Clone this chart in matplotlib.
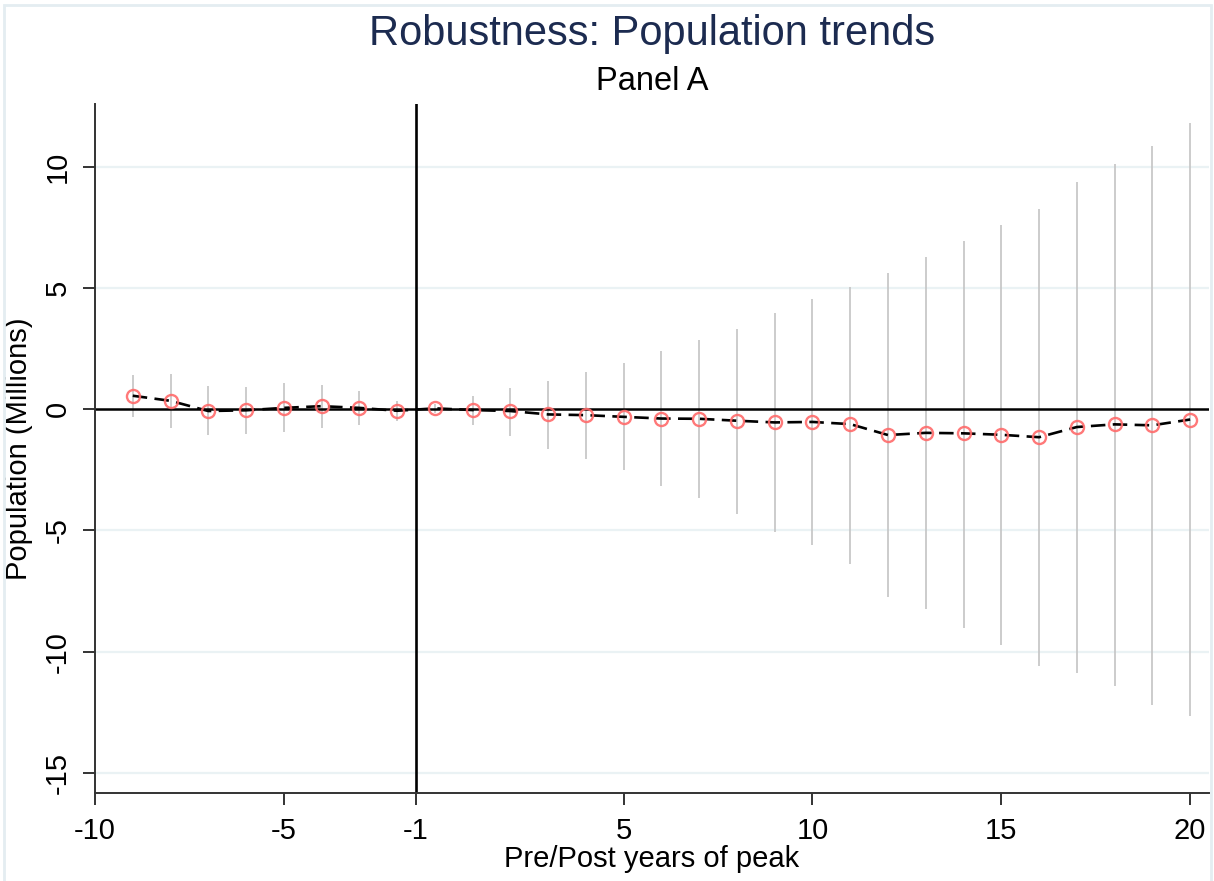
import matplotlib
matplotlib.use("Agg")
import matplotlib.pyplot as plt
from matplotlib.patches import Rectangle
import numpy as np

# event time relative to peak (-1 is the omitted reference year)
event_years = [-9, -8, -7, -6, -5, -4, -3, -2,
               0, 1, 2, 3, 4, 5, 6, 7, 8, 9, 10,
               11, 12, 13, 14, 15, 16, 17, 18, 19, 20]
coef = [0.55, 0.34, -0.08, -0.05, 0.05, 0.12, 0.05, -0.07,
        0.03, -0.04, -0.08, -0.22, -0.25, -0.32, -0.39, -0.40, -0.48, -0.55, -0.53,
        -0.62, -1.07, -0.98, -1.00, -1.06, -1.16, -0.74, -0.63, -0.67, -0.43]
ci_hi = [1.40, 1.43, 0.95, 0.90, 1.06, 0.98, 0.76, 0.32,
         0.20, 0.55, 0.88, 1.17, 1.54, 1.89, 2.41, 2.85, 3.32, 3.97, 4.55,
         5.04, 5.61, 6.27, 6.94, 7.58, 8.24, 9.37, 10.12, 10.84, 11.79]
ci_lo = [-0.32, -0.76, -1.07, -1.03, -0.96, -0.76, -0.66, -0.50,
         -0.15, -0.66, -1.12, -1.63, -2.05, -2.52, -3.18, -3.65, -4.31, -5.06, -5.62,
         -6.39, -7.74, -8.25, -9.04, -9.74, -10.58, -10.87, -11.40, -12.20, -12.64]

xtick_years = [-10, -5, -1, 5, 10, 15, 20]
ytick_vals = [10, 5, 0, -5, -10, -15]


def to_pos(yr):
    # plotted as consecutive positions, with the omitted year -1 squeezed out
    if yr <= -2:
        return yr + 10
    if yr >= 0:
        return yr + 9
    return 8.5


plt.rcParams['font.family'] = ['Liberation Sans', 'DejaVu Sans']

x = np.array([to_pos(v) for v in event_years])

fig = plt.figure(figsize=(12.14, 8.81), dpi=100)
ax = fig.add_axes([95 / 1214, 1 - 792.5 / 881, (1209 - 95) / 1214, (792.5 - 104) / 881])

# outer graph-region frame
fig.patches.append(Rectangle((4 / 1214, -0.05), 1207 / 1214, 1.05 - 5 / 881,
                             transform=fig.transFigure, fill=False,
                             edgecolor='#e4edf1', lw=2))

for yv in ytick_vals:
    if yv != 0:
        ax.axhline(yv, color='#eaf2f4', lw=1.6, zorder=0)

ax.vlines(x, ci_lo, ci_hi, color='#c4c4c4', lw=1.2, zorder=1)
ax.axhline(0, color='black', lw=1.8, zorder=2)
ax.axvline(to_pos(-1), color='black', lw=1.9, zorder=2)
ax.plot(x, coef, color='black', lw=1.9, dashes=(5.5, 2.8), zorder=3)
ax.plot(x, coef, ls='none', marker='o', ms=9.4, mfc='none', mec='#ff6b6b',
        mew=1.7, alpha=0.9, zorder=4)

ax.set_xlim(0, 29.5)
ax.set_ylim(-15.81, 12.58)

ax.set_xticks([to_pos(v) for v in xtick_years])
ax.set_xticklabels([str(v) for v in xtick_years])
ax.set_yticks(ytick_vals)
ax.set_yticklabels([str(v) for v in ytick_vals], rotation=90, va='center')
ax.tick_params(axis='both', direction='out', length=8.5, width=1.4,
               color='#333333', labelsize=21)
ax.tick_params(axis='x', pad=9)
ax.tick_params(axis='y', pad=8)

for s in ['top', 'right']:
    ax.spines[s].set_visible(False)
for s in ['left', 'bottom']:
    ax.spines[s].set_color('#333333')
    ax.spines[s].set_linewidth(1.4)

ax.set_xlabel('Pre/Post years of peak', fontsize=21, labelpad=0)
ax.set_ylabel('Population (Millions)', fontsize=21, labelpad=8)

cx = (95 + 1209) / 2 / 1214
fig.text(cx, 1 - 34 / 881, 'Robustness: Population trends', fontsize=30,
         color='#1c2b50', ha='center', va='center')
fig.text(cx, 1 - 82 / 881, 'Panel A', fontsize=23.5, color='black',
         ha='center', va='center')

fig.savefig('out.png', dpi=100, facecolor='white')
